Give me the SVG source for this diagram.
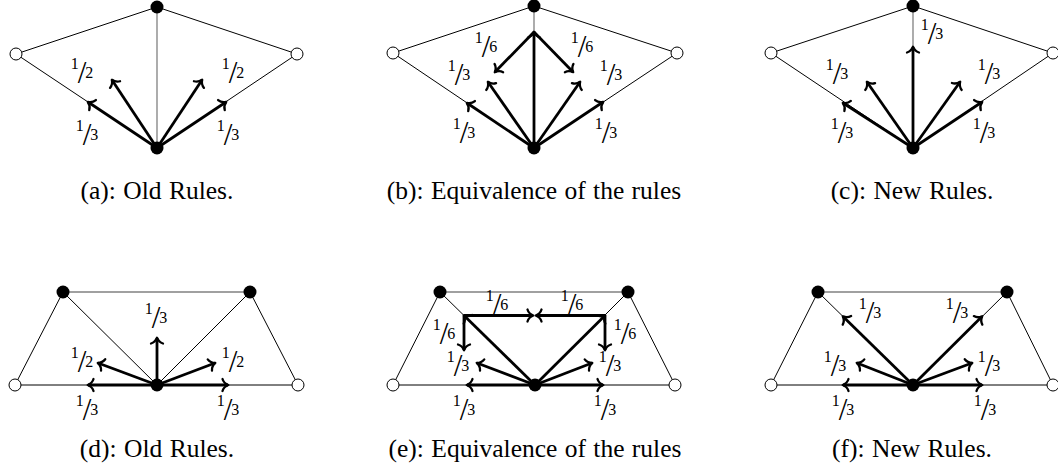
<svg xmlns="http://www.w3.org/2000/svg" width="1058" height="469" viewBox="0 0 1058 469">
<defs>
<style>
.e{stroke:#000;stroke-width:1;fill:none}
.g{stroke:#808080;stroke-width:1.3;fill:none}
.a{stroke:#000;stroke-width:2.8;fill:none;marker-end:url(#ah)}
.f{fill:#000}
.o{fill:#fff;stroke:#000;stroke-width:1}
.fr{font-family:"Liberation Serif","Times New Roman",serif;text-anchor:middle;fill:#000}
.d{font-size:16px}
.sl{font-size:31px}
.cap{font-family:"Liberation Serif","Times New Roman",serif;font-size:25.5px;word-spacing:1px;text-anchor:middle;fill:#000}
</style>
<marker id="ah" markerUnits="userSpaceOnUse" viewBox="-8 -8 10 16" markerWidth="10" markerHeight="16" refX="0" refY="0" orient="auto" overflow="visible">
<path d="M -5.5 -6 C -4.5 -2.5 -1.5 -0.7 0.3 0 C -1.5 0.7 -4.5 2.5 -5.5 6" fill="none" stroke="#000" stroke-width="2.3" stroke-linecap="round" stroke-linejoin="round"/>
</marker>
</defs>

<!-- Panel a -->
<g id="panel-a">
<g id="a-connectors">
<path class="e" d="M157 7L16 54L157 148L297 54Z"/>
<path class="g" d="M157 7V148"/>
<path class="a" d="M157 148L88 102"/>
<path class="a" d="M157 148L112 80"/>
<path class="a" d="M157 148L202 80"/>
<path class="a" d="M157 148L226 102"/>
</g>
<g id="a-top"><circle class="f" cx="157" cy="7" r="6.5"/></g>
<g id="a-left"><circle class="o" cx="16" cy="54" r="6"/></g>
<g id="a-right"><circle class="o" cx="297" cy="54" r="6"/></g>
<g id="a-bottom"><circle class="f" cx="157" cy="148" r="6.5"/></g>
<g id="a-labels">
<text class="fr" x="82" y="69"><tspan class="d">1</tspan><tspan class="sl" dx="-1" dy="14">/</tspan><tspan class="d" dx="-1" dy="-5">2</tspan></text>
<text class="fr" x="233" y="69"><tspan class="d">1</tspan><tspan class="sl" dx="-1" dy="14">/</tspan><tspan class="d" dx="-1" dy="-5">2</tspan></text>
<text class="fr" x="87" y="131"><tspan class="d">1</tspan><tspan class="sl" dx="-1" dy="14">/</tspan><tspan class="d" dx="-1" dy="-5">3</tspan></text>
<text class="fr" x="228" y="131"><tspan class="d">1</tspan><tspan class="sl" dx="-1" dy="14">/</tspan><tspan class="d" dx="-1" dy="-5">3</tspan></text>
</g>
<text class="cap" x="157" y="199">(a):  Old Rules.</text>
</g>

<!-- Panel b -->
<g id="panel-b" transform="translate(377,0)">
<g id="b-connectors">
<path class="e" d="M157 6L16 53L157 148L300 53Z"/>
<path class="g" d="M157 6V148"/>
<path class="a" d="M157 148V32"/>
<path class="a" d="M157 32L118 72"/>
<path class="a" d="M157 32L196 72"/>
<path class="a" d="M157 148L111 82"/>
<path class="a" d="M157 148L203 82"/>
<path class="a" d="M157 148L90 103"/>
<path class="a" d="M157 148L226 102"/>
</g>
<g id="b-top"><circle class="f" cx="157" cy="6" r="6.5"/></g>
<g id="b-left"><circle class="o" cx="16" cy="53" r="6"/></g>
<g id="b-right"><circle class="o" cx="300" cy="53" r="6"/></g>
<g id="b-bottom"><circle class="f" cx="157" cy="148" r="6.5"/></g>
<g id="b-labels">
<text class="fr" x="109" y="43"><tspan class="d">1</tspan><tspan class="sl" dx="-1" dy="14">/</tspan><tspan class="d" dx="-1" dy="-5">6</tspan></text>
<text class="fr" x="205" y="43"><tspan class="d">1</tspan><tspan class="sl" dx="-1" dy="14">/</tspan><tspan class="d" dx="-1" dy="-5">6</tspan></text>
<text class="fr" x="82" y="71"><tspan class="d">1</tspan><tspan class="sl" dx="-1" dy="14">/</tspan><tspan class="d" dx="-1" dy="-5">3</tspan></text>
<text class="fr" x="234" y="71"><tspan class="d">1</tspan><tspan class="sl" dx="-1" dy="14">/</tspan><tspan class="d" dx="-1" dy="-5">3</tspan></text>
<text class="fr" x="87" y="129"><tspan class="d">1</tspan><tspan class="sl" dx="-1" dy="14">/</tspan><tspan class="d" dx="-1" dy="-5">3</tspan></text>
<text class="fr" x="229" y="129"><tspan class="d">1</tspan><tspan class="sl" dx="-1" dy="14">/</tspan><tspan class="d" dx="-1" dy="-5">3</tspan></text>
</g>
<text class="cap" x="157" y="199">(b):  Equivalence of the rules</text>
</g>

<!-- Panel c -->
<g id="panel-c" transform="translate(756,0)">
<g id="c-connectors">
<path class="e" d="M157 6L15 53L157 148L297 53Z"/>
<path class="g" d="M157 6V148"/>
<path class="a" d="M157 148V47"/>
<path class="a" d="M157 148L111 82"/>
<path class="a" d="M157 148L204 82"/>
<path class="a" d="M157 148L87 103"/>
<path class="a" d="M157 148L226 102"/>
</g>
<g id="c-top"><circle class="f" cx="157" cy="6" r="6.5"/></g>
<g id="c-left"><circle class="o" cx="15" cy="53" r="6"/></g>
<g id="c-right"><circle class="o" cx="297" cy="53" r="6"/></g>
<g id="c-bottom"><circle class="f" cx="157" cy="148" r="6.5"/></g>
<g id="c-labels">
<text class="fr" x="176" y="30"><tspan class="d">1</tspan><tspan class="sl" dx="-1" dy="14">/</tspan><tspan class="d" dx="-1" dy="-5">3</tspan></text>
<text class="fr" x="81" y="70"><tspan class="d">1</tspan><tspan class="sl" dx="-1" dy="14">/</tspan><tspan class="d" dx="-1" dy="-5">3</tspan></text>
<text class="fr" x="233" y="70"><tspan class="d">1</tspan><tspan class="sl" dx="-1" dy="14">/</tspan><tspan class="d" dx="-1" dy="-5">3</tspan></text>
<text class="fr" x="86" y="129"><tspan class="d">1</tspan><tspan class="sl" dx="-1" dy="14">/</tspan><tspan class="d" dx="-1" dy="-5">3</tspan></text>
<text class="fr" x="228" y="129"><tspan class="d">1</tspan><tspan class="sl" dx="-1" dy="14">/</tspan><tspan class="d" dx="-1" dy="-5">3</tspan></text>
</g>
<text class="cap" x="156" y="199">(c):  New Rules.</text>
</g>

<!-- Panel d -->
<g id="panel-d">
<g id="d-connectors">
<path class="e" d="M15 385L63 292M250 292L298 385M15 385H298M63 292L157 385L250 292"/>
<path class="g" d="M63 292H250"/>
<path class="a" d="M157 385H88"/>
<path class="a" d="M157 385H228"/>
<path class="a" d="M157 385V338"/>
<path class="a" d="M157 385L98 363"/>
<path class="a" d="M157 385L215 363"/>
</g>
<g id="d-topleft"><circle class="f" cx="63" cy="292" r="6.5"/></g>
<g id="d-topright"><circle class="f" cx="250" cy="292" r="6.5"/></g>
<g id="d-left"><circle class="o" cx="15" cy="385" r="6"/></g>
<g id="d-right"><circle class="o" cx="298" cy="385" r="6"/></g>
<g id="d-center"><circle class="f" cx="157" cy="385" r="6.5"/></g>
<g id="d-labels">
<text class="fr" x="156" y="314"><tspan class="d">1</tspan><tspan class="sl" dx="-1" dy="14">/</tspan><tspan class="d" dx="-1" dy="-5">3</tspan></text>
<text class="fr" x="82" y="358"><tspan class="d">1</tspan><tspan class="sl" dx="-1" dy="14">/</tspan><tspan class="d" dx="-1" dy="-5">2</tspan></text>
<text class="fr" x="233" y="358"><tspan class="d">1</tspan><tspan class="sl" dx="-1" dy="14">/</tspan><tspan class="d" dx="-1" dy="-5">2</tspan></text>
<text class="fr" x="87" y="406"><tspan class="d">1</tspan><tspan class="sl" dx="-1" dy="14">/</tspan><tspan class="d" dx="-1" dy="-5">3</tspan></text>
<text class="fr" x="228" y="406"><tspan class="d">1</tspan><tspan class="sl" dx="-1" dy="14">/</tspan><tspan class="d" dx="-1" dy="-5">3</tspan></text>
</g>
<text class="cap" x="157" y="457">(d):  Old Rules.</text>
</g>

<!-- Panel e -->
<g id="panel-e" transform="translate(377,0)">
<g id="e-connectors">
<path class="e" d="M16 385L63 292M251 292L298 385M16 385H298M63 292L158 385L251 292"/>
<path class="g" d="M63 292H251"/>
<path class="a" d="M158 385L87 315.5"/>
<path class="a" d="M158 385L228 315.5"/>
<path class="a" d="M87 315.5H156"/>
<path class="a" d="M228 315.5H159"/>
<path class="a" d="M87 315.5V350"/>
<path class="a" d="M228 315.5V350"/>
<path class="a" d="M158 385L100 363"/>
<path class="a" d="M158 385L215 363"/>
<path class="a" d="M158 385H90"/>
<path class="a" d="M158 385H226"/>
</g>
<g id="e-topleft"><circle class="f" cx="63" cy="292" r="6.5"/></g>
<g id="e-topright"><circle class="f" cx="251" cy="292" r="6.5"/></g>
<g id="e-left"><circle class="o" cx="16" cy="385" r="6"/></g>
<g id="e-right"><circle class="o" cx="298" cy="385" r="6"/></g>
<g id="e-center"><circle class="f" cx="158" cy="385" r="6.5"/></g>
<g id="e-labels">
<text class="fr" x="120" y="301"><tspan class="d">1</tspan><tspan class="sl" dx="-1" dy="14">/</tspan><tspan class="d" dx="-1" dy="-5">6</tspan></text>
<text class="fr" x="195" y="301"><tspan class="d">1</tspan><tspan class="sl" dx="-1" dy="14">/</tspan><tspan class="d" dx="-1" dy="-5">6</tspan></text>
<text class="fr" x="67" y="330"><tspan class="d">1</tspan><tspan class="sl" dx="-1" dy="14">/</tspan><tspan class="d" dx="-1" dy="-5">6</tspan></text>
<text class="fr" x="248" y="330"><tspan class="d">1</tspan><tspan class="sl" dx="-1" dy="14">/</tspan><tspan class="d" dx="-1" dy="-5">6</tspan></text>
<text class="fr" x="81" y="362"><tspan class="d">1</tspan><tspan class="sl" dx="-1" dy="14">/</tspan><tspan class="d" dx="-1" dy="-5">3</tspan></text>
<text class="fr" x="233" y="362"><tspan class="d">1</tspan><tspan class="sl" dx="-1" dy="14">/</tspan><tspan class="d" dx="-1" dy="-5">3</tspan></text>
<text class="fr" x="87" y="406"><tspan class="d">1</tspan><tspan class="sl" dx="-1" dy="14">/</tspan><tspan class="d" dx="-1" dy="-5">3</tspan></text>
<text class="fr" x="228" y="406"><tspan class="d">1</tspan><tspan class="sl" dx="-1" dy="14">/</tspan><tspan class="d" dx="-1" dy="-5">3</tspan></text>
</g>
<text class="cap" x="158" y="457">(e):  Equivalence of the rules</text>
</g>

<!-- Panel f -->
<g id="panel-f" transform="translate(756,0)">
<g id="f-connectors">
<path class="e" d="M15 385L62 292M251 292L297 385M15 385H297M62 292L157 385L251 292"/>
<path class="g" d="M62 292H251"/>
<path class="a" d="M157 385L87 316.5"/>
<path class="a" d="M157 385L226 316.5"/>
<path class="a" d="M157 385L101 363"/>
<path class="a" d="M157 385L216 363"/>
<path class="a" d="M157 385H87"/>
<path class="a" d="M157 385H226"/>
</g>
<g id="f-topleft"><circle class="f" cx="62" cy="292" r="6.5"/></g>
<g id="f-topright"><circle class="f" cx="251" cy="292" r="6.5"/></g>
<g id="f-left"><circle class="o" cx="15" cy="385" r="6"/></g>
<g id="f-right"><circle class="o" cx="297" cy="385" r="6"/></g>
<g id="f-center"><circle class="f" cx="157" cy="385" r="6.5"/></g>
<g id="f-labels">
<text class="fr" x="114" y="309"><tspan class="d">1</tspan><tspan class="sl" dx="-1" dy="14">/</tspan><tspan class="d" dx="-1" dy="-5">3</tspan></text>
<text class="fr" x="201" y="309"><tspan class="d">1</tspan><tspan class="sl" dx="-1" dy="14">/</tspan><tspan class="d" dx="-1" dy="-5">3</tspan></text>
<text class="fr" x="79" y="362"><tspan class="d">1</tspan><tspan class="sl" dx="-1" dy="14">/</tspan><tspan class="d" dx="-1" dy="-5">3</tspan></text>
<text class="fr" x="233" y="362"><tspan class="d">1</tspan><tspan class="sl" dx="-1" dy="14">/</tspan><tspan class="d" dx="-1" dy="-5">3</tspan></text>
<text class="fr" x="87" y="406"><tspan class="d">1</tspan><tspan class="sl" dx="-1" dy="14">/</tspan><tspan class="d" dx="-1" dy="-5">3</tspan></text>
<text class="fr" x="229" y="406"><tspan class="d">1</tspan><tspan class="sl" dx="-1" dy="14">/</tspan><tspan class="d" dx="-1" dy="-5">3</tspan></text>
</g>
<text class="cap" x="156" y="457">(f):  New Rules.</text>
</g>
</svg>
